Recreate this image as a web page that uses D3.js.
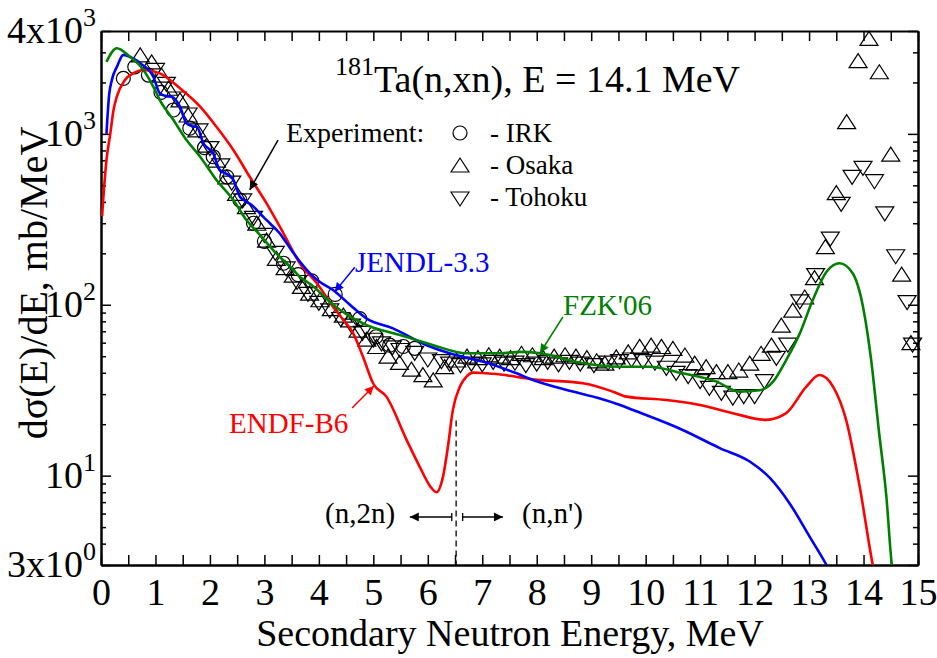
<!DOCTYPE html>
<html>
<head>
<meta charset="utf-8">
<script src="https://cdn.jsdelivr.net/npm/d3@7"></script>
<style>
body{margin:0;background:#fff;}
svg{display:block;font-family:"Liberation Serif","Times New Roman",serif;}
</style>
</head>
<body>
<div id="chart"></div>
<script>
// evaluated spectra, [E (MeV), dsigma/dE (mb/MeV)]
var endfB6 = [[0.02,330],[0.04,410],[0.10,700],[0.17,1000],[0.23,1380],[0.29,1650],[0.44,2070],[0.59,2260],[0.78,2365],[1.08,2260],[1.45,1848],[1.82,1443],[2.12,1100],[2.43,805],[2.73,561],[3.04,392],[3.35,262],[3.65,175],[3.96,134],[4.26,97.5],[4.45,81.5],[4.63,68],[4.81,49.6],[5.00,34.5],[5.24,29],[5.61,16.2],[5.85,11.3],[6.05,8.6],[6.16,8.0],[6.28,9.9],[6.37,14.8],[6.46,24.2],[6.59,33.2],[6.71,38],[6.83,40.1],[7.08,39.7],[7.20,39.5],[7.93,36.6],[8.85,34.7],[9.40,31],[9.65,29],[10.38,27.7],[11.00,25.9],[11.60,23.2],[12.21,21.2],[12.58,23.2],[12.95,33.2],[13.19,38.8],[13.44,33.2],[13.68,21.2],[13.93,8.6],[14.17,3],[14.22,2.5]];
var jendl33 = [[0.10,1000],[0.15,1700],[0.20,2070],[0.30,2500],[0.41,2900],[0.53,2830],[0.72,2590],[0.96,2160],[1.08,1727],[1.20,1660],[1.30,1650],[1.45,1443],[1.57,1153],[1.68,1110],[1.76,1100],[1.88,880],[2.06,770],[2.18,615],[2.32,580],[2.43,537],[2.55,429],[2.68,400],[2.80,375],[2.98,327],[3.10,300],[3.28,262],[3.41,229],[3.65,179],[3.90,146],[4.02,136],[4.26,122],[4.57,100],[4.88,83],[5.36,72.8],[5.98,58],[6.40,52],[7.01,46.5],[7.63,39.7],[7.93,36.3],[8.55,31.7],[9.16,28.3],[9.52,26],[9.77,24.2],[10.68,18.5],[11.36,14.5],[11.91,12.1],[12.28,9.7],[12.64,6.9],[13.01,4.4],[13.32,3],[13.45,2.5]];
var fzk06 = [[0.10,2640],[0.29,3170],[0.53,2830],[0.78,2365],[0.96,1890],[1.08,1578],[1.33,1205],[1.57,920],[1.82,735],[2.12,537],[2.43,410],[2.67,313],[2.90,260],[3.16,209],[3.47,167],[3.65,146],[3.90,128],[4.26,100],[4.88,76],[5.49,66.5],[6.10,58],[6.71,52],[7.32,52],[7.70,53],[8.06,52],[8.85,45.5],[9.52,43.4],[10.07,43.4],[10.68,39.7],[11.30,35.5],[11.72,31],[12.09,31.6],[12.34,35.5],[12.58,47.5],[12.83,68],[13.07,107],[13.32,156],[13.56,175],[13.80,153],[13.99,97.5],[14.14,47.5],[14.28,18.5],[14.42,7.5],[14.52,3],[14.56,2.5]];

// experiments
var irk = [[0.41,2110],[0.62,2470],[0.87,2210],[1.10,1750],[1.33,1380],[1.63,1080],[1.90,830],[2.06,735],[2.31,561],[2.55,410],[2.80,300],[3.00,235],[3.35,175],[3.62,150],[3.87,138],[4.30,115],[4.75,83],[5.05,65],[5.30,58],[5.55,57],[5.76,55.6]];
var osaka = [[0.72,2900],[0.93,2640],[1.11,2210],[1.24,1850],[1.45,1580],[1.60,1290],[1.76,1055],[1.94,860],[2.12,703],[2.31,561],[2.49,449],[2.67,375],[2.86,300],[3.04,239],[3.22,187],[3.38,165],[3.53,149],[3.68,128],[3.83,117],[4.02,107],[4.23,95],[4.45,87],[4.57,81.5],[4.72,71],[4.88,63],[5.06,57],[5.27,50],[5.48,46],[5.70,42],[5.91,39],[6.10,36.3],[6.31,43.4],[6.53,47.5],[6.72,50],[6.92,49],[7.12,51],[7.32,50],[7.52,49],[7.72,52],[7.92,51],[8.12,49],[8.32,50],[8.52,51],[8.72,50],[8.92,49],[9.10,47],[9.25,45.5],[9.46,49.6],[9.68,53],[9.89,57],[10.10,58],[10.29,57],[10.50,55.6],[10.72,50.8],[10.90,45.5],[11.11,43.4],[11.30,40.6],[11.51,40.6],[11.71,41.5],[11.91,45.5],[12.12,52],[12.31,58],[12.49,76],[12.70,93],[12.92,111],[13.10,144],[13.30,219],[13.50,453],[13.69,1178],[13.90,2680],[14.10,3620],[14.29,2310],[14.50,762],[14.70,151],[14.87,60]];
var tohoku = [[1.00,2350],[1.20,1950],[1.40,1600],[1.60,1290],[1.80,1040],[2.00,820],[2.20,650],[2.40,515],[2.60,405],[2.80,320],[3.00,255],[3.20,200],[3.40,162],[3.60,135],[3.80,115],[4.00,102],[4.20,92],[4.40,82],[4.60,75],[4.80,68],[5.00,62],[5.15,59],[5.35,56],[5.49,54],[5.76,52],[6.00,47.5],[6.25,46.5],[6.40,45],[6.60,44],[6.80,45],[7.00,44.5],[7.20,46],[7.40,45],[7.60,45.5],[7.80,44],[8.00,45],[8.20,46],[8.40,44.5],[8.60,46],[8.80,45],[9.05,44],[9.31,45.5],[9.52,46.5],[9.74,47.5],[9.95,46.5],[10.17,45.5],[10.38,42.5],[10.56,39.7],[10.78,38],[11.00,35.5],[11.17,32.4],[11.39,30.3],[11.60,28.4],[11.80,29],[12.00,29],[12.18,35.5],[12.40,48.6],[12.61,58],[12.83,104],[13.12,148],[13.39,242],[13.59,387],[13.79,557],[13.99,629],[14.20,525],[14.39,340],[14.59,191],[14.80,103],[14.90,58]];

var xTickValues = [0,1,2,3,4,5,6,7,8,9,10,11,12,13,14,15];
var xMinorValues = [0.5,1.5,2.5,3.5,4.5,5.5,6.5,7.5,8.5,9.5,10.5,11.5,12.5,13.5,14.5];
var yTickValues = [3,10,100,1000,4000];
var yTickLabels = [["3x10","0"],["10","1"],["10","2"],["10","3"],["4x10","3"]];
var yMinorValues = [4,5,6,7,8,9,20,30,40,50,60,70,80,90,200,300,400,500,600,700,800,900,2000,3000];

var width = 937, height = 658;
var svg = d3.select("#chart").append("svg")
    .attr("width", width)
    .attr("height", height);

var x = d3.scaleLinear().domain([0, 15]).range([101, 918]);
var y = d3.scaleLog().domain([3, 4000]).range([565, 31]);

var addAxis = function(axis, tx, ty){
    var g = svg.append("g")
        .attr("transform", "translate(" + tx + "," + ty + ")")
        .call(axis);
    g.select(".domain").attr("stroke-width", 2);
    g.selectAll(".tick line").attr("stroke-width", 1.5);
    return g;
};

// frame and ticks
addAxis(d3.axisBottom(x).tickValues(xMinorValues).tickSize(-10).tickSizeOuter(0).tickFormat(""), 0, 565);
var xAxis = addAxis(d3.axisBottom(x).tickValues(xTickValues).tickSize(-10).tickSizeOuter(0).tickPadding(13), 0, 565);
xAxis.selectAll("text").attr("font-size", 38).attr("font-family", "Liberation Serif").attr("fill", "#000");
addAxis(d3.axisTop(x).tickValues(xTickValues.concat(xMinorValues)).tickSize(-10).tickSizeOuter(0).tickFormat(""), 0, 31);
addAxis(d3.axisLeft(y).tickValues(yTickValues).tickSize(-10).tickSizeOuter(0).tickFormat(""), 101, 0);
addAxis(d3.axisLeft(y).tickValues(yMinorValues).tickSize(-5).tickSizeOuter(0).tickFormat(""), 101, 0);
addAxis(d3.axisRight(y).tickValues(yTickValues).tickSize(-10).tickSizeOuter(0).tickFormat(""), 918, 0);
addAxis(d3.axisRight(y).tickValues(yMinorValues).tickSize(-5).tickSizeOuter(0).tickFormat(""), 918, 0);

svg.append("g").selectAll("text")
    .data(yTickValues)
    .join("text")
    .attr("x", 96)
    .attr("y", function(d){ return y(d) + 12; })
    .attr("text-anchor", "end")
    .attr("font-size", 38)
    .each(function(d, i){
        var t = d3.select(this);
        t.append("tspan").text(yTickLabels[i][0]);
        t.append("tspan").attr("font-size", 26).attr("dy", -17).text(yTickLabels[i][1]);
    });

// axis titles
svg.append("text")
    .attr("x", 510).attr("y", 646)
    .attr("text-anchor", "middle")
    .attr("font-size", 38)
    .text("Secondary Neutron Energy, MeV");

svg.append("text")
    .attr("transform", "translate(47,283) rotate(-90)")
    .attr("text-anchor", "middle")
    .attr("font-size", 40)
    .text("d\u03c3(E)/dE, mb/MeV");

// title
var title = svg.append("text").attr("x", 335).attr("y", 92).attr("font-size", 38);
title.append("tspan").attr("font-size", 26).attr("dy", -17).text("181");
title.append("tspan").attr("dy", 17).text("Ta(n,xn), E = 14.1 MeV");

// experimental points
var tri = function(cx, cy, up){
    var h = up ? 7 : -7;
    return "M" + (cx - 9) + "," + (cy + h) + "L" + (cx + 9) + "," + (cy + h) + "L" + cx + "," + (cy - h) + "Z";
};

var pts = svg.append("g").attr("fill", "none").attr("stroke", "#000").attr("stroke-width", 1.2);
pts.selectAll("path.osaka").data(osaka).join("path")
    .attr("class", "osaka")
    .attr("d", function(d){ return tri(x(d[0]), y(d[1]), true); });
pts.selectAll("path.tohoku").data(tohoku).join("path")
    .attr("class", "tohoku")
    .attr("d", function(d){ return tri(x(d[0]), y(d[1]), false); });
pts.selectAll("circle").data(irk).join("circle")
    .attr("cx", function(d){ return x(d[0]); })
    .attr("cy", function(d){ return y(d[1]); })
    .attr("r", 7);

// evaluations
svg.append("clipPath").attr("id", "plotClip")
    .append("rect").attr("x", 101).attr("y", 31).attr("width", 817).attr("height", 534);

var line = d3.line()
    .x(function(d){ return x(d[0]); })
    .y(function(d){ return y(d[1]); })
    .curve(d3.curveMonotoneX);

var curves = svg.append("g").attr("clip-path", "url(#plotClip)").attr("fill", "none").attr("stroke-width", 2.6);
curves.append("path").datum(endfB6).attr("stroke", "#ff0000").attr("d", line);
curves.append("path").datum(jendl33).attr("stroke", "#0000ff").attr("d", line);
curves.append("path").datum(fzk06).attr("stroke", "#008000").attr("d", line);

// arrow heads
var defs = svg.append("defs");
[["black", "#000"], ["red", "#ff0000"], ["blue", "#0000ff"], ["green", "#008000"]].forEach(function(c){
    defs.append("marker")
        .attr("id", "head-" + c[0])
        .attr("viewBox", "0 0 10 10")
        .attr("refX", 10).attr("refY", 5)
        .attr("markerUnits", "userSpaceOnUse")
        .attr("markerWidth", 13).attr("markerHeight", 9)
        .attr("orient", "auto")
        .append("path").attr("d", "M0,0L10,5L0,10Z").attr("fill", c[1]);
});

var arrow = function(e0, v0, e1, v1, color, name){
    svg.append("line")
        .attr("x1", x(e0)).attr("y1", y(v0))
        .attr("x2", x(e1)).attr("y2", y(v1))
        .attr("stroke", color).attr("stroke-width", 1.5)
        .attr("marker-end", "url(#head-" + name + ")");
};

arrow(3.25, 920, 2.73, 470, "#000", "black");
arrow(4.66, 166, 4.29, 119, "#0000ff", "blue");
arrow(8.48, 84.8, 8.06, 52.2, "#008000", "green");
arrow(4.61, 24.9, 5.01, 33.5, "#ff0000", "red");

var label = function(px, py, txt, color, size){
    svg.append("text").attr("x", px).attr("y", py)
        .attr("font-size", size).attr("fill", color).text(txt);
};

label(355, 272, "JENDL-3.3", "#0000ff", 29);
label(563, 315, "FZK'06", "#008000", 29);
label(229, 433, "ENDF-B6", "#ff0000", 29);
label(286, 142, "Experiment:", "#000", 28);
label(490, 142, "- IRK", "#000", 27);
label(490, 174, "- Osaka", "#000", 27);
label(490, 206, "- Tohoku", "#000", 27);

var leg = svg.append("g").attr("fill", "none").attr("stroke", "#000").attr("stroke-width", 1.2);
leg.append("circle").attr("cx", 460).attr("cy", 133).attr("r", 7);
leg.append("path").attr("d", tri(460, 165, true));
leg.append("path").attr("d", tri(460, 199, false));

// (n,2n) / (n,n') boundary
svg.append("line")
    .attr("x1", x(6.52)).attr("x2", x(6.52))
    .attr("y1", y(21)).attr("y2", y(3))
    .attr("stroke", "#000").attr("stroke-width", 1.3)
    .attr("stroke-dasharray", "6,4");

arrow(6.44, 5.73, 5.67, 5.73, "#000", "black");
arrow(6.64, 5.73, 7.38, 5.73, "#000", "black");
[6.44, 6.64].forEach(function(e){
    svg.append("line")
        .attr("x1", x(e)).attr("x2", x(e))
        .attr("y1", y(5.73) - 4).attr("y2", y(5.73) + 4)
        .attr("stroke", "#000").attr("stroke-width", 1.3);
});

label(325, 523, "(n,2n)", "#000", 29);
label(522, 523, "(n,n')", "#000", 29);
</script>
</body>
</html>
